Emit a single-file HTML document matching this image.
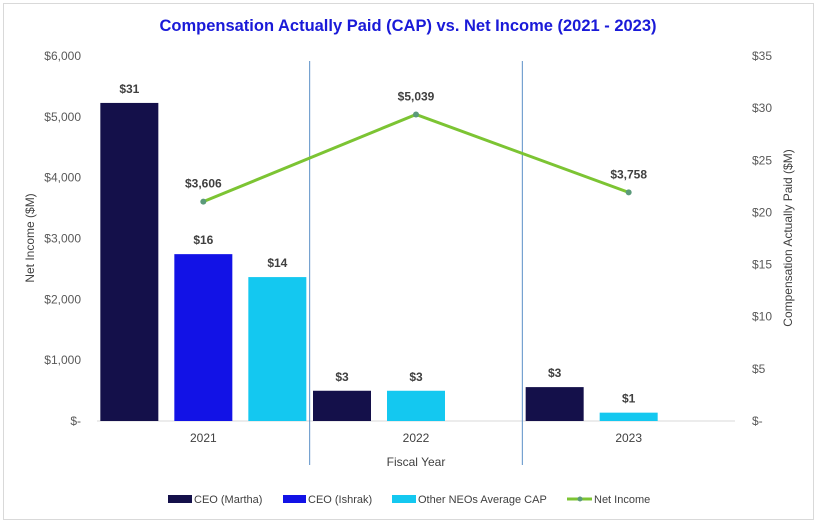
<!DOCTYPE html>
<html><head><meta charset="utf-8"><style>
body{margin:0;background:#fff;}
svg{display:block;font-family:"Liberation Sans",sans-serif;}
</style></head><body>
<svg id="chart" width="818" height="524">
<rect x="3.5" y="3.5" width="810" height="516" fill="#fff" stroke="#d9d9d9"/>
<text x="408" y="31" text-anchor="middle" font-size="16.5" font-weight="bold" fill="#1a1ad8" textLength="497" lengthAdjust="spacingAndGlyphs">Compensation Actually Paid (CAP) vs. Net Income (2021 - 2023)</text>
<g id="axes"></g>
<g id="bars"></g>
<g id="line"></g>
<text transform="translate(34,238) rotate(-90)" text-anchor="middle" font-size="12" fill="#404040">Net Income  ($M)</text>
<text transform="translate(792,238) rotate(-90)" text-anchor="middle" font-size="12" fill="#404040">Compensation Actually Paid ($M)</text>
<text x="416" y="466" text-anchor="middle" font-size="12" fill="#404040">Fiscal Year</text>
<g font-size="11" fill="#404040">
<g><rect x="168" y="495" width="24" height="8" fill="#14104a"/><text x="194" y="503">CEO (Martha)</text></g>
<g><rect x="283" y="495" width="23" height="8" fill="#1212e6"/><text x="308" y="503">CEO (Ishrak)</text></g>
<g><rect x="392" y="495" width="24" height="8" fill="#14c8f0"/><text x="418" y="503">Other NEOs Average CAP</text></g>
<g><line x1="567" y1="499" x2="592" y2="499" stroke="#7cc433" stroke-width="3"/><circle cx="580" cy="499" r="2.5" fill="#5b9a7a"/><text x="594" y="503">Net Income</text></g>
</g>
</svg>
<script>
const categories = ["2021","2022","2023"];
const marthaCAP = [30.5, 2.9, 3.25];
const ishrakCAP = [16.0, null, null];
const otherCAP = [13.8, 2.9, 0.8];
const capLabels = [["$31","$3","$3"],["$16",null,null],["$14","$3","$1"]];
const netIncome = [3606, 5039, 3758];
const netIncomeLabels = ["$3,606","$5,039","$3,758"];
const leftTicks = [0,1000,2000,3000,4000,5000,6000];
const leftTickLabels = ["$-","$1,000","$2,000","$3,000","$4,000","$5,000","$6,000"];
const rightTicks = [0,5,10,15,20,25,30,35];
const rightTickLabels = ["$-","$5","$10","$15","$20","$25","$30","$35"];

const NS="http://www.w3.org/2000/svg";
const X0=97,X1=735,Y0=421,Y1=56;
const band=(X1-X0)/categories.length;
const xC=i=>X0+band*(i+0.5);
const yL=v=>Y0-(v/6000)*(Y0-Y1);
const yR=v=>Y0-(v/35)*(Y0-Y1);
function mk(tag,attrs,parent,text){const e=document.createElementNS(NS,tag);for(const k in attrs)e.setAttribute(k,attrs[k]);if(text!=null)e.textContent=text;parent.appendChild(e);return e;}
const axes=document.getElementById('axes'),bars=document.getElementById('bars'),line=document.getElementById('line');

leftTicks.forEach((t,i)=>{const e=mk('text',{x:81,y:yL(t)+4,'text-anchor':'end','font-size':12,fill:'#595959'},axes,leftTickLabels[i]);

});
rightTicks.forEach((t,i)=>{const e=mk('text',{x:752,y:yR(t)+4,'font-size':12,fill:'#595959'},axes,rightTickLabels[i]);

});
const base=mk('line',{x1:X0,y1:Y0,x2:X1,y2:Y0,stroke:'#d9d9d9','stroke-width':1},axes);


for(let i=1;i<categories.length;i++){const d=mk('line',{x1:X0+band*i,y1:61,x2:X0+band*i,y2:465,stroke:'#5b8fc7','stroke-width':1},axes);

}
categories.forEach((c,i)=>{const e=mk('text',{x:xC(i),y:442,'text-anchor':'middle','font-size':12,fill:'#404040'},axes,c);

});

const series=[{v:marthaCAP,c:'#14104a',n:'martha'},{v:ishrakCAP,c:'#1212e6',n:'ishrak'},{v:otherCAP,c:'#14c8f0',n:'other-neos'}];
const step=74,bw=58;
categories.forEach((c,i)=>{let slot=0;
series.forEach((s,si)=>{const v=s.v[i];if(v==null)return;
const cx=xC(i)+(slot-1)*step;slot++;
const r=mk('rect',{x:cx-bw/2,y:yR(v),width:bw,height:Y0-yR(v),fill:s.c},bars);


const t=mk('text',{x:cx,y:yR(v)-10,'text-anchor':'middle','font-size':12,'font-weight':'bold',fill:'#404040'},bars,capLabels[si][i]);

});});

const pts=netIncome.map((v,i)=>xC(i)+','+yL(v)).join(' ');
const pl=mk('polyline',{points:pts,fill:'none',stroke:'#7cc433','stroke-width':3},line);


netIncome.forEach((v,i)=>{const p=mk('circle',{cx:xC(i),cy:yL(v),r:3,fill:'#5b9a7a'},line);


const t=mk('text',{x:xC(i),y:yL(v)-14,'text-anchor':'middle','font-size':12,'font-weight':'bold',fill:'#404040'},line,netIncomeLabels[i]);

});
</script>
</body></html>
